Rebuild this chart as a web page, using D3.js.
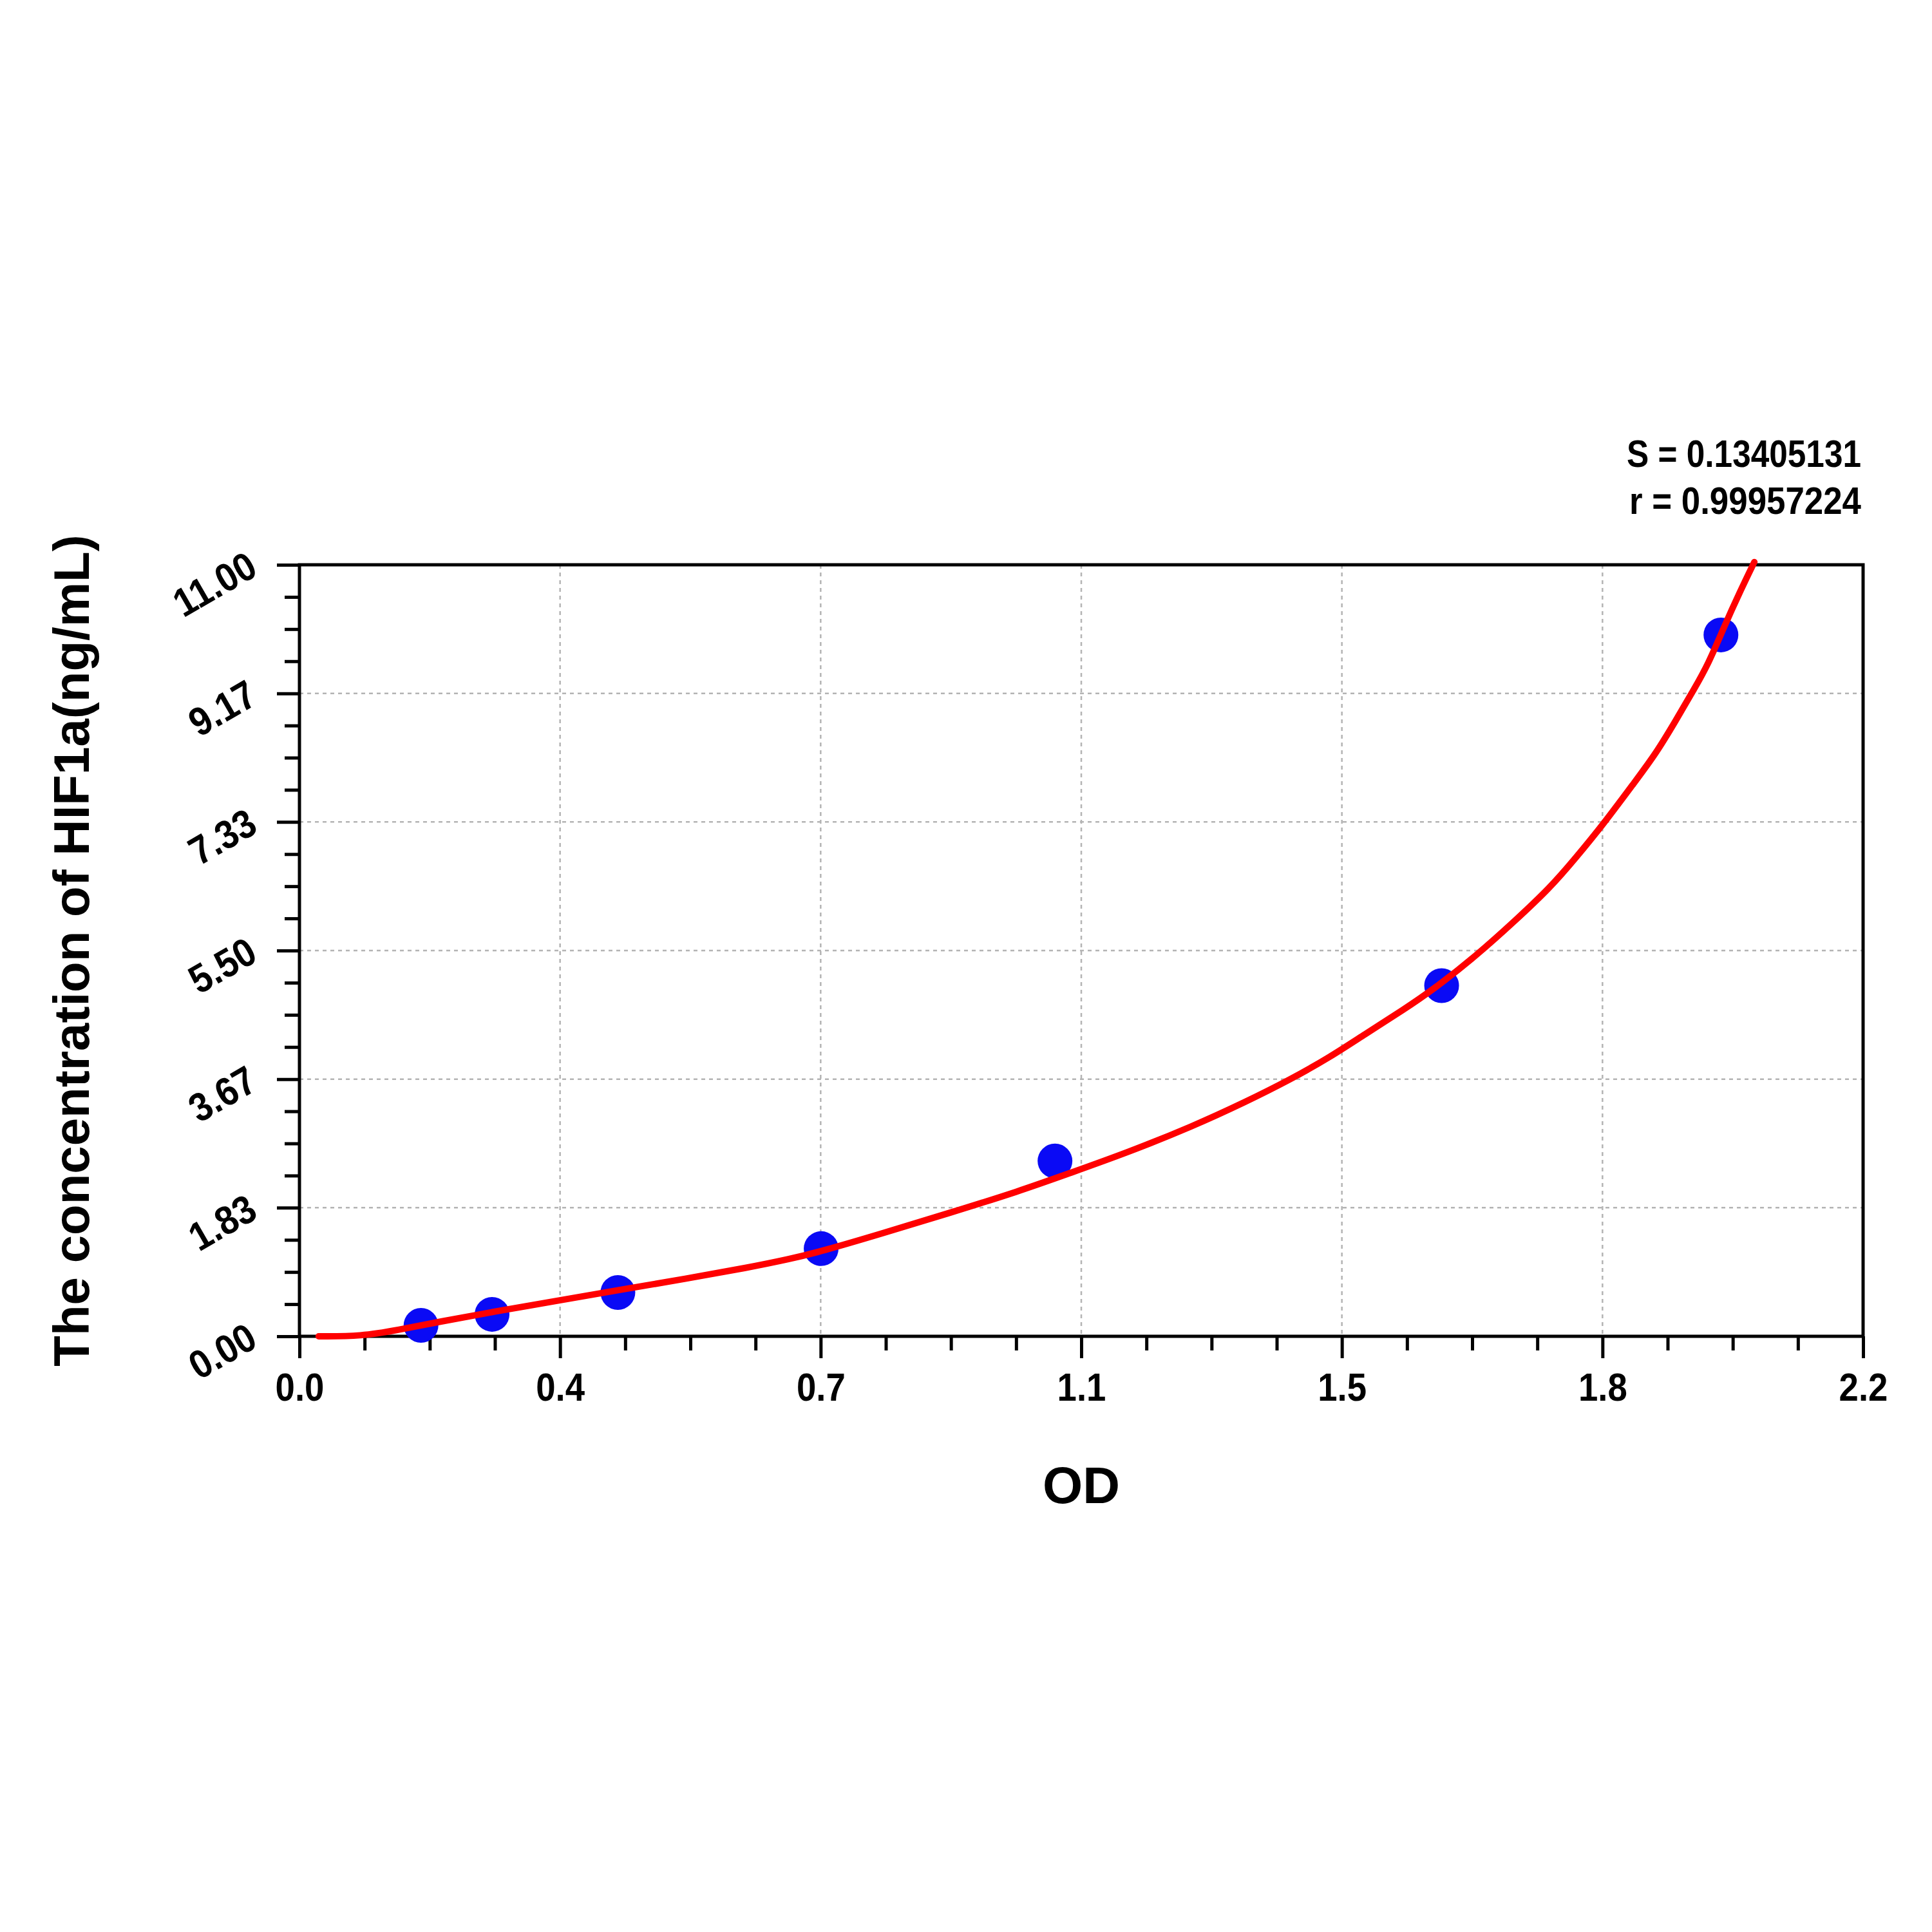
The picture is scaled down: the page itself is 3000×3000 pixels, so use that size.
<!DOCTYPE html>
<html>
<head>
<meta charset="utf-8">
<script src="https://cdn.jsdelivr.net/npm/d3@7"></script>
<style>
  body { margin: 0; background: #fff; }
  text { font-family: "Liberation Sans", Arial, sans-serif; font-weight: bold; fill: #000; }
</style>
</head>
<body>
<div class="graph"></div>
<script>
// standards (OD vs concentration)
const odStd = [0.171, 0.271, 0.448, 0.734, 1.063, 1.607, 2.000];
const concStd = [0.156, 0.313, 0.625, 1.25, 2.5, 5, 10];

// fitted curve
const fitOD = [0.027, 0.087, 0.139, 0.198, 0.273, 0.359, 0.449, 0.544, 0.631, 0.689, 0.734, 0.818, 0.915, 1.013, 1.082, 1.165, 1.256, 1.331, 1.394, 1.450, 1.498, 1.554, 1.596, 1.655, 1.711, 1.760, 1.794, 1.836, 1.877, 1.908, 1.936, 1.963, 1.982, 2.005, 2.026, 2.047];
const fitConc = [0, 0, 0.09, 0.21, 0.35, 0.50, 0.66, 0.82, 0.98, 1.10, 1.21, 1.46, 1.76, 2.07, 2.32, 2.62, 2.99, 3.34, 3.66, 3.98, 4.30, 4.66, 4.95, 5.42, 5.93, 6.40, 6.80, 7.32, 7.88, 8.30, 8.77, 9.24, 9.58, 10.13, 10.60, 11.04];

// axis tick labels
const xTickLabels = ["0.0", "0.4", "0.7", "1.1", "1.5", "1.8", "2.2"];
const yTickLabels = ["0.00", "1.83", "3.67", "5.50", "7.33", "9.17", "11.00"];

const xMax = 2.2, yMax = 11;
const stats = ["S = 0.13405131", "r = 0.99957224"];

const W = 3000, H = 3000;
const m = {left: 465, right: 2893, top: 877, bottom: 2075};

const svg = d3.select(".graph").append("svg")
    .attr("width", W)
    .attr("height", H)
    .style("background", "#fff");

const x = d3.scaleLinear().domain([0, xMax]).range([m.left, m.right]);
const y = d3.scaleLinear().domain([0, yMax]).range([m.bottom, m.top]);

// major and minor tick positions (6 major intervals, 4 minor per interval)
const xMajor = xTickLabels.map((d, i) => i * xMax / (xTickLabels.length - 1));
const yMajor = yTickLabels.map((d, i) => i * yMax / (yTickLabels.length - 1));
const xMinor = d3.range(0, 25).map(i => i * xMax / 24).filter((d, i) => i % 4 !== 0);
const yMinor = d3.range(0, 25).map(i => i * yMax / 24).filter((d, i) => i % 4 !== 0);

//Gridlines
svg.append("g").selectAll("line")
    .data(xMajor.slice(1, -1))
    .join("line")
    .attr("x1", d => x(d)).attr("x2", d => x(d))
    .attr("y1", m.top).attr("y2", m.bottom)
    .attr("stroke", "#b4b4b4").attr("stroke-width", 2.5)
    .attr("stroke-dasharray", "6,6");

svg.append("g").selectAll("line")
    .data(yMajor.slice(1, -1))
    .join("line")
    .attr("x1", m.left).attr("x2", m.right)
    .attr("y1", d => y(d)).attr("y2", d => y(d))
    .attr("stroke", "#b4b4b4").attr("stroke-width", 2.5)
    .attr("stroke-dasharray", "6,6");

//Axes
const xAxis = svg.append("g")
    .attr("transform", "translate(0," + m.bottom + ")")
    .call(d3.axisBottom(x).tickValues(xMajor).tickSize(34)
        .tickFormat((d, i) => xTickLabels[i]));
svg.append("g")
    .attr("transform", "translate(0," + m.bottom + ")")
    .call(d3.axisBottom(x).tickValues(xMinor).tickSize(22).tickFormat(""));

const yAxis = svg.append("g")
    .attr("transform", "translate(" + m.left + ",0)")
    .call(d3.axisLeft(y).tickValues(yMajor).tickSize(35)
        .tickFormat((d, i) => yTickLabels[i]));
svg.append("g")
    .attr("transform", "translate(" + m.left + ",0)")
    .call(d3.axisLeft(y).tickValues(yMinor).tickSize(23).tickFormat(""));

svg.selectAll(".domain").remove();
svg.selectAll(".tick line").attr("stroke", "#000").attr("stroke-width", 5);

// tick labels are a condensed bold face in the original
xAxis.selectAll("text")
    .attr("y", 0).attr("dy", 0)
    .attr("transform", "translate(0,100) scale(0.88,1)")
    .attr("font-size", 62)
    .attr("font-family", null);

yAxis.selectAll("text")
    .attr("x", 0).attr("dy", 0)
    .attr("text-anchor", "end")
    .attr("transform", "translate(-62,14) rotate(-30) scale(0.9,1)")
    .attr("font-size", 62)
    .attr("font-family", null);

//Frame
svg.append("rect")
    .attr("x", m.left).attr("y", m.top)
    .attr("width", m.right - m.left).attr("height", m.bottom - m.top)
    .attr("fill", "none").attr("stroke", "#000").attr("stroke-width", 5);

//Standards
svg.append("g").selectAll("circle")
    .data(odStd.map((d, i) => ({od: d, conc: concStd[i]})))
    .join("circle")
    .attr("cx", d => x(d.od))
    .attr("cy", d => y(d.conc))
    .attr("r", 27)
    .attr("fill", "#0a0af5");

//Fitted curve
const line = d3.line()
    .x(d => x(d.od))
    .y(d => y(d.conc))
    .curve(d3.curveBasis);

svg.append("path")
    .datum(fitOD.map((d, i) => ({od: d, conc: fitConc[i]})))
    .attr("d", line)
    .attr("fill", "none")
    .attr("stroke", "#f00")
    .attr("stroke-width", 10)
    .attr("stroke-linecap", "round");

//Titles
svg.append("text")
    .attr("x", (m.left + m.right) / 2)
    .attr("y", 2334)
    .attr("text-anchor", "middle")
    .attr("font-size", 80)
    .text("OD");

svg.append("text")
    .attr("transform", "translate(138," + ((m.top + m.bottom) / 2) + ") rotate(-90)")
    .attr("text-anchor", "middle")
    .attr("font-size", 78)
    .text("The concentration of HIF1a(ng/mL)");

//Fit statistics
svg.append("g").selectAll("text")
    .data(stats)
    .join("text")
    .attr("x", 2890)
    .attr("y", (d, i) => 725 + i * 73)
    .attr("text-anchor", "end")
    .attr("font-size", 60)
    .attr("textLength", (d, i) => i === 0 ? 364 : 360)
    .attr("lengthAdjust", "spacingAndGlyphs")
    .text(d => d);
</script>
</body>
</html>
